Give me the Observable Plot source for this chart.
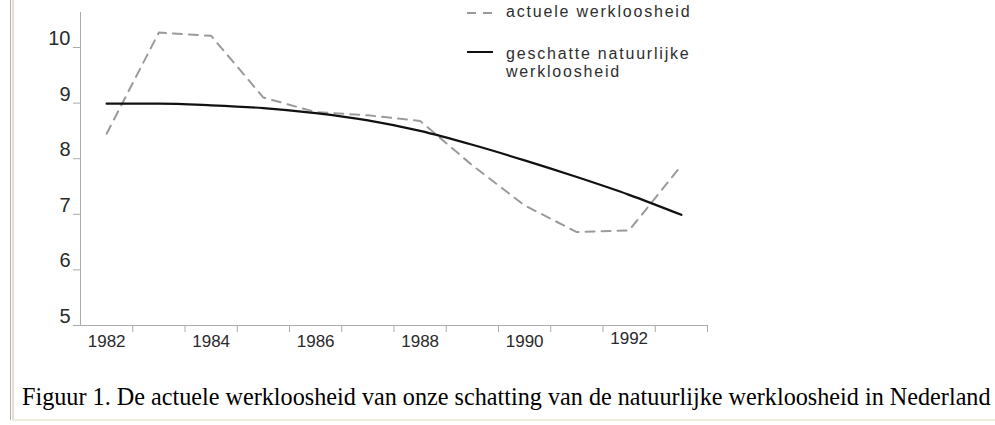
<!DOCTYPE html>
<html><head><meta charset="utf-8">
<script src="https://cdn.jsdelivr.net/npm/d3@7"></script>
<script src="https://cdn.jsdelivr.net/npm/@observablehq/plot@0.6"></script>
<style>
html,body{margin:0;padding:0;background:#fff;width:995px;height:425px;overflow:hidden;position:relative;font-family:"Liberation Sans",Arial,sans-serif;}
#frameL1{position:absolute;left:10px;top:0;width:1px;height:420px;background:#b3afa2;}
#frameL2{position:absolute;left:12px;top:0;width:2px;height:420px;background:#e2dfd2;}
#frameB{position:absolute;left:12px;top:419px;width:983px;height:2px;background:#eeebdf;}
#chart{position:absolute;left:0;top:0;}
#legend{position:absolute;left:0;top:0;width:995px;height:100px;}
.lg{position:absolute;font-size:16px;letter-spacing:1.8px;color:#2e2e2e;line-height:18px;white-space:nowrap;}
.sw{position:absolute;}
#caption{position:absolute;left:22px;top:385px;font-family:"Liberation Serif","Times New Roman",serif;font-size:24.2px;line-height:24px;color:#000;white-space:nowrap;}
</style>
</head><body>
<div id="frameL1"></div><div id="frameL2"></div><div id="frameB"></div>
<div id="chart"></div>
<div id="legend"></div>
<div id="caption"></div>
<script>
// ---- data ----
const years = [1982, 1983, 1984, 1985, 1986, 1987, 1988, 1989, 1990, 1991, 1992, 1993];
const actueleWerkloosheid = [8.45, 10.27, 10.21, 9.10, 8.84, 8.78, 8.68, 7.88, 7.16, 6.68, 6.71, 7.88];
const natuurlijkeWerkloosheid = [8.99, 8.99, 8.96, 8.91, 8.82, 8.69, 8.50, 8.25, 7.97, 7.67, 7.35, 6.99];
const xTickPositions = [1982.5, 1983.5, 1984.5, 1985.5, 1986.5, 1987.5, 1988.5, 1989.5, 1990.5, 1991.5, 1992.5, 1993.5];
const xTickLabels = [1982, 1984, 1986, 1988, 1990];
const xTickLabelsRaised = [1992];
const yTickValues = [5, 6, 7, 8, 9, 10];
const seriesNames = ["actuele werkloosheid", "geschatte natuurlijke", "werkloosheid"];
const captionText = "Figuur 1. De actuele werkloosheid van onze schatting van de natuurlijke werkloosheid in Nederland";

const actual = years.map((year, i) => ({year, value: actueleWerkloosheid[i]}));
const natural = years.map((year, i) => ({year, value: natuurlijkeWerkloosheid[i]}));

const chart = Plot.plot({
  width: 995, height: 365,
  marginTop: 12, marginRight: 288, marginBottom: 40, marginLeft: 80,
  style: {color: "#ababab", background: "transparent", fontFamily: "'Liberation Sans', Arial, sans-serif"},
  x: {domain: [1981.5, 1993.5], ticks: xTickPositions, tickSize: 7, tickFormat: () => "", line: true, label: null},
  y: {domain: [5, 10.63], ticks: yTickValues, tickSize: 7, tickFormat: () => "", line: true, label: null},
  marks: [
    Plot.line(actual, {x: "year", y: "value", stroke: "#9a9a9a", strokeWidth: 2, strokeDasharray: "9,7"}),
    Plot.line(natural, {x: "year", y: "value", stroke: "#111", strokeWidth: 2.2, curve: "monotone-x"}),
    Plot.text(xTickLabels, {x: d => d, y: 5, dy: 16, text: d => String(d), fill: "#2a2a2a", fontSize: 17}),
    Plot.text(xTickLabelsRaised, {x: d => d, y: 5, dy: 13, text: d => String(d), fill: "#2a2a2a", fontSize: 17}),
    Plot.text(yTickValues, {x: 1981.5, y: d => d, dx: -10, dy: -9, textAnchor: "end", text: d => String(d), fill: "#2a2a2a", fontSize: 20})
  ]
});
document.getElementById("chart").appendChild(chart);

// legend
const lg = document.getElementById("legend");
function swatch(x, y, dash, color, w) {
  const ns = "http://www.w3.org/2000/svg";
  const s = document.createElementNS(ns, "svg");
  s.setAttribute("width", 28); s.setAttribute("height", 6);
  s.setAttribute("class", "sw");
  s.style.left = x + "px"; s.style.top = (y - 3) + "px";
  const l = document.createElementNS(ns, "line");
  l.setAttribute("x1", 1); l.setAttribute("x2", 27); l.setAttribute("y1", 3); l.setAttribute("y2", 3);
  l.setAttribute("stroke", color); l.setAttribute("stroke-width", w);
  if (dash) l.setAttribute("stroke-dasharray", dash);
  s.appendChild(l);
  lg.appendChild(s);
}
swatch(466, 13, "9,7", "#9a9a9a", 2);
swatch(466, 52, null, "#111", 2);
function label(x, top, txt) {
  const d = document.createElement("div");
  d.className = "lg"; d.style.left = x + "px"; d.style.top = top + "px";
  d.innerHTML = txt;
  lg.appendChild(d);
}
label(506, 3, seriesNames[0]);
label(506, 45, seriesNames[1] + "<br>" + seriesNames[2]);

document.getElementById("caption").textContent = captionText;
</script>
</body></html>
